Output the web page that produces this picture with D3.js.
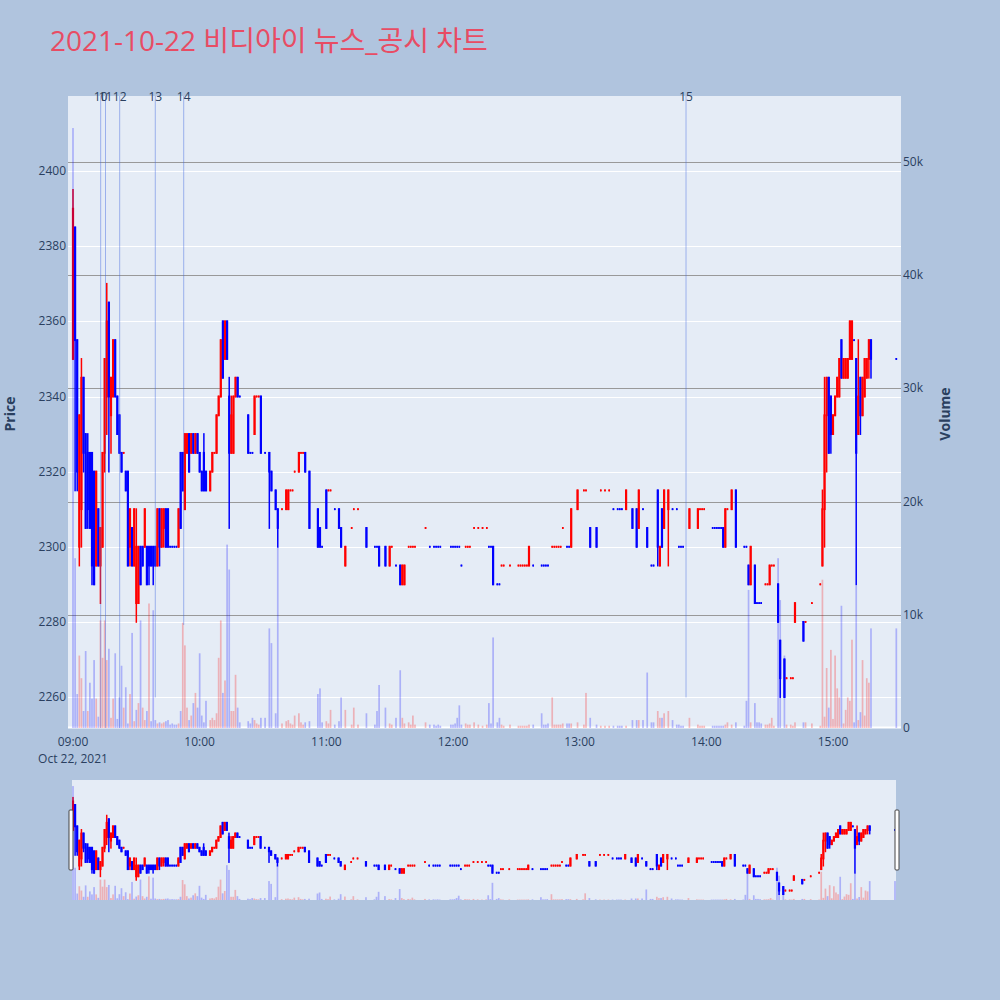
<!DOCTYPE html>
<html><head><meta charset="utf-8">
<script src="https://cdn.jsdelivr.net/npm/d3@7/dist/d3.min.js"></script>
<style>
html,body{margin:0;padding:0;background:#b0c4de;}
svg{display:block;}
text{font-family:"Open Sans","Noto Sans CJK KR",verdana,arial,sans-serif;}
</style></head><body>
<svg id="chart" width="1000" height="1000"></svg>
<script>
// ---------------- DATA ----------------
const tradeDate = "2021-10-22";
const chartTitle = "2021-10-22 비디아이 뉴스_공시 차트";
const prevDayClose = 2400;

const times = [
 "09:00","09:01","09:02","09:03","09:04","09:05","09:06","09:07","09:08","09:09","09:10","09:11","09:12","09:13","09:14","09:15","09:16","09:17","09:18","09:19","09:20","09:21","09:22","09:23","09:24","09:25","09:26","09:27","09:28","09:29","09:30","09:31","09:32","09:33","09:34","09:35","09:36","09:37","09:38","09:39","09:40","09:41","09:42","09:43","09:44","09:45","09:46","09:47","09:48","09:49","09:50","09:51","09:52","09:53","09:54","09:55","09:56","09:57","09:58","09:59",
 "10:00","10:01","10:02","10:03","10:05","10:06","10:07","10:08","10:09","10:10","10:11","10:12","10:13","10:14","10:15","10:16","10:17","10:18","10:19","10:23","10:24","10:25","10:26","10:27","10:28","10:29","10:31","10:33","10:34","10:36","10:37","10:39","10:41","10:42","10:43","10:44","10:45","10:47","10:48","10:49","10:50","10:52","10:56","10:57","10:58",
 "11:00","11:01","11:02","11:04","11:06","11:07","11:09","11:12","11:13","11:15","11:19","11:23","11:24","11:25","11:28","11:30","11:31","11:33","11:35","11:36","11:37","11:39","11:40","11:41","11:42","11:47","11:49","11:51","11:52","11:53","11:54","11:59",
 "12:00","12:01","12:02","12:03","12:04","12:06","12:07","12:08","12:10","12:12","12:14","12:16","12:17","12:18","12:19","12:21","12:22","12:23","12:24","12:27","12:31","12:32","12:33","12:34","12:35","12:36","12:38","12:42","12:43","12:44","12:45","12:47","12:48","12:49","12:50","12:51","12:52","12:54","12:55","12:56","12:59",
 "13:02","13:03","13:05","13:08","13:10","13:12","13:14","13:16","13:18","13:19","13:20","13:22","13:25","13:27","13:28","13:30","13:32","13:34","13:35","13:37","13:38","13:39","13:40","13:42","13:44","13:46","13:47","13:48","13:49","13:52","13:56","13:57","13:58","13:59",
 "14:03","14:04","14:05","14:06","14:07","14:08","14:09","14:10","14:12","14:14","14:18","14:19","14:20","14:21","14:23","14:24","14:25","14:26","14:28","14:29","14:30","14:31","14:32","14:34","14:35","14:37","14:38","14:40","14:41","14:42","14:46","14:47","14:50","14:54","14:55","14:56","14:57","14:58","14:59",
 "15:00","15:01","15:02","15:03","15:04","15:05","15:06","15:07","15:08","15:09","15:10","15:11","15:12","15:13","15:14","15:15","15:16","15:17","15:18","15:30"
];

const open = [
 2350,2385,2355,2300,2310,2345,2330,2325,2325,2325, 2320,2295,2310,2295,2300,2325,2340,2365,2335,2340, 2355,2340,2335,2325,2325,2320,2320,2300,2305,2295, 2285,2285,2300,2300,2300,2300,2300,2300,2300,2300, 2295,2310,2300,2305,2310,2310,2300,2300,2300,2300, 2300,2325,2325,2310,2325,2330,2325,2330,2325,2330,
 2325,2320,2325,2320, 2315,2320,2325,2325,2335,2340,2360,2350,2360,2340,2325,2325,2340,2345,2340, 2335,2325,2325,2330,2340,2340,2340, 2325, 2325,2320, 2315,2310, 2310, 2310,2310,2315,2315,2320, 2320,2325,2325,2325, 2320, 2310,2305,2300,
 2315,2315,2315,2310,2310, 2305,2295,2305,2310,2310, 2305,2300,2300,2300,2300, 2295,2300,2295,2295,2290, 2290,2300,2300,2300,2300, 2305,2300,2300,2300,2300, 2300,2300,
 2300,2300,2300,2300,2295, 2300,2300,2300, 2305,2305,2305,2305, 2300,2300,2300, 2290,2290, 2295,2295, 2295, 2295,2295,2295,2295,2295, 2295, 2295, 2295,2295,2295,2295, 2300,2300,2300,2300,2300, 2305, 2300,2300,2300, 2310,
 2315,2315,2305,2305,2315,2315,2315,2310,2310,2310,2310,2310,2310,2310,2305,2310,2305,2295,2295,2315,2295,2310,2305,2310,2310,2310,2300,2300,2300,2305,2305,2310,2310,2310,
 2305,2305,2305,2305,2305, 2305,2300,2310, 2310, 2315, 2300,2300,2295,2290, 2295,2285,2285,2285, 2290,2290,2290,2295,2295, 2290,2275, 2270,2265, 2265,2265,2280, 2280,2280, 2285, 2290,2295,2310,2335,2345,2340,
 2330,2335,2340,2340,2355,2345,2345,2345,2350,2350,2355,2350,2330,2345,2335,2340,2345,2350,2355, 2350
];
const high = [
 2395,2385,2355,2335,2350,2345,2330,2330,2325,2325, 2320,2320,2310,2305,2325,2350,2370,2365,2345,2355, 2355,2340,2335,2325,2325,2320,2320,2310,2305,2310, 2310,2300,2300,2300,2310,2300,2300,2300,2300,2300, 2310,2310,2310,2310,2310,2310,2300,2300,2300,2300, 2310,2325,2325,2330,2330,2330,2330,2330,2330,2330,
 2325,2320,2330,2320, 2320,2325,2325,2335,2340,2355,2360,2360,2360,2345,2340,2340,2345,2345,2340, 2335,2325,2325,2340,2340,2340,2340, 2325, 2325,2320, 2315,2310, 2310, 2315,2315,2315,2315,2320, 2325,2325,2325,2325, 2320, 2310,2305,2300,
 2315,2315,2315,2310,2310, 2305,2300,2305,2310,2310, 2305,2300,2300,2300,2300, 2300,2300,2295,2295,2295, 2295,2300,2300,2300,2300, 2305,2300,2300,2300,2300, 2300,2300,
 2300,2300,2300,2300,2295, 2300,2300,2300, 2305,2305,2305,2305, 2300,2300,2300, 2290,2290, 2295,2295, 2295, 2295,2295,2295,2295,2295, 2300, 2295, 2295,2295,2295,2295, 2300,2300,2300,2300,2300, 2305, 2300,2300,2310, 2315,
 2315,2315,2305,2305,2315,2315,2315,2310,2310,2310,2310,2315,2310,2310,2315,2310,2305,2295,2295,2315,2300,2310,2315,2315,2310,2310,2300,2300,2300,2310,2310,2310,2310,2310,
 2305,2305,2305,2305,2305, 2305,2310,2310, 2315, 2315, 2300,2300,2295,2300, 2295,2285,2285,2285, 2290,2290,2295,2295,2295, 2290,2275, 2270,2265, 2265,2265,2285, 2280,2280, 2285, 2290,2315,2345,2345,2345,2340,
 2335,2340,2345,2350,2355,2350,2350,2350,2360,2360,2355,2350,2355,2345,2345,2350,2350,2355,2355, 2350
];
const low = [
 2350,2315,2315,2295,2300,2320,2305,2305,2305,2290, 2290,2295,2295,2285,2300,2320,2330,2320,2325,2340, 2340,2330,2325,2320,2325,2315,2295,2295,2295,2295, 2280,2285,2290,2295,2300,2290,2290,2295,2290,2295, 2295,2295,2300,2300,2300,2300,2300,2300,2300,2300, 2300,2305,2315,2310,2325,2320,2325,2325,2325,2325,
 2320,2315,2315,2315, 2315,2320,2325,2325,2335,2340,2345,2350,2350,2305,2325,2325,2340,2340,2340, 2325,2325,2325,2330,2340,2340,2325, 2325, 2305,2315, 2310,2300, 2310, 2310,2310,2315,2315,2320, 2320,2325,2325,2320, 2305, 2300,2300,2300,
 2305,2315,2315,2310,2305, 2300,2295,2305,2310,2310, 2300,2300,2300,2295,2295, 2295,2300,2295,2290,2290, 2290,2300,2300,2300,2300, 2305,2300,2300,2300,2300, 2300,2300,
 2300,2300,2300,2300,2295, 2300,2300,2300, 2305,2305,2305,2305, 2300,2300,2290, 2290,2290, 2295,2295, 2295, 2295,2295,2295,2295,2295, 2295, 2295, 2295,2295,2295,2295, 2300,2300,2300,2300,2300, 2305, 2300,2300,2300, 2310,
 2315,2315,2300,2300,2315,2315,2315,2310,2310,2310,2310,2310,2305,2300,2305,2310,2300,2295,2295,2295,2295,2300,2305,2295,2310,2310,2300,2300,2300,2305,2305,2310,2310,2310,
 2305,2305,2305,2305,2305, 2300,2300,2310, 2310, 2300, 2300,2300,2290,2290, 2285,2285,2285,2285, 2290,2290,2290,2295,2295, 2280,2260, 2260,2265, 2265,2265,2280, 2275,2280, 2285, 2290,2295,2300,2320,2325,2325,
 2330,2335,2340,2340,2345,2345,2345,2345,2350,2350,2355,2290,2330,2330,2335,2340,2345,2345,2345, 2350
];
const close = [
 2390,2355,2320,2335,2345,2325,2305,2310,2305,2295, 2290,2320,2295,2305,2325,2350,2360,2340,2345,2355, 2340,2330,2325,2320,2325,2315,2295,2310,2295,2310, 2300,2300,2290,2295,2310,2290,2295,2295,2295,2295, 2310,2300,2310,2310,2300,2300,2300,2300,2300,2300, 2310,2305,2315,2330,2330,2320,2330,2325,2330,2325,
 2320,2315,2315,2315, 2320,2325,2325,2335,2340,2355,2345,2360,2350,2325,2335,2340,2345,2340,2340, 2325,2325,2325,2340,2340,2340,2325, 2325, 2320,2315, 2310,2305, 2310, 2315,2315,2315,2315,2320, 2325,2325,2325,2320, 2305, 2300,2300,2300,
 2305,2315,2315,2310,2305, 2300,2300,2305,2310,2310, 2300,2300,2300,2295,2295, 2300,2300,2295,2290,2295, 2295,2300,2300,2300,2300, 2305,2300,2300,2300,2300, 2300,2300,
 2300,2300,2300,2300,2295, 2300,2300,2300, 2305,2305,2305,2305, 2300,2300,2290, 2290,2290, 2295,2295, 2295, 2295,2295,2295,2295,2295, 2300, 2295, 2295,2295,2295,2295, 2300,2300,2300,2300,2300, 2305, 2300,2300,2310, 2315,
 2315,2315,2300,2300,2315,2315,2315,2310,2310,2310,2310,2315,2305,2300,2315,2310,2300,2295,2295,2300,2300,2300,2315,2315,2310,2310,2300,2300,2300,2310,2310,2310,2310,2310,
 2305,2305,2305,2305,2305, 2300,2310,2310, 2315, 2300, 2300,2300,2290,2300, 2285,2285,2285,2285, 2290,2290,2295,2295,2295, 2280,2265, 2260,2265, 2265,2265,2285, 2275,2280, 2285, 2290,2310,2335,2345,2325,2330,
 2335,2340,2345,2350,2345,2350,2350,2350,2360,2360,2355,2325,2340,2335,2345,2350,2350,2355,2350, 2350
];
const volume = [
 53000,15000,3000,6400,4400,1500,6800,1500,4000,2600, 6000,2600,1000,9500,6200,9500,6000,7000,900,2600, 6600,800,2700,5500,1800,3600,400,3000,8400,600, 1600,2200,9500,1800,700,1500,11000,600,10400,700, 400,500,400,500,600,700,300,400,300,300, 400,1500,9300,7300,1800,700,1100,2200,3100,1800,
 6600,1100,500,2400, 700,900,700,1300,6200,9500,3100,4200,16200,14000,1500,1500,4700,1800,500, 600,400,900,700,400,300,900, 900, 8800,7500, 1300,16000, 400, 600,700,400,300,1100, 1300,500,300,500, 600, 3000,3500,500,
 600,400,1600,300,600, 2700,1600,300,1800,300, 1300,300,1500,3800,1800, 400,300,900,5100,900, 400,500,300,1100,300, 500,300,300,200,300, 200,300,
 300,400,900,2000,300, 400,300,300, 500,300,200,300, 2200,400,8000, 500,900, 300,200, 300, 200,200,200,200,200, 300, 300, 1300,300,300,400, 2700,300,300,300,300, 400, 400,400,400, 500,
 300,3100,900,300,200,200,200,200,200,200,200,200,700,700,700,700,4900,500,500,1500,900,900,1300,1500,700,300,300,200,200,900,300,200,200,200,
 200,200,200,200,200, 200,300,500, 300, 500, 200,2400,12200,500, 2200,500,500,400, 300,300,400,900,200, 15000,11300, 6400,300, 300,200,500, 500,500, 400, 200,13100,1000,5300,1800,6900,
 800,6400,3500,2700,10800,400,1600,2700,2400,7800,500,12600,700,1400,6000,1100,4400,4000,8800, 8800
];

const priceTicks = [2260,2280,2300,2320,2340,2360,2380,2400];
const volumeTicks = [0,10000,20000,30000,40000,50000];
const volumeTickLabels = ["0","10k","20k","30k","40k","50k"];
const timeTicks = ["09:00","10:00","11:00","12:00","13:00","14:00","15:00"];
const firstTickDate = "Oct 22, 2021";

const newsTimes = ["09:13:07","09:15:24","09:22:07","09:38:59","09:52:26","13:50:23"];
const newsLabels = ["10","11","12","13","14","15"];
const newsLineBottomVolume = [0,0,0,2700,9100,2700];

// ---------------- LAYOUT ----------------
const plot = {l:68, r:901, t:96, b:728};
const slider = {l:72, r:896, t:780, b:900};
const xRange = ["08:57:38","15:32:13"];
const priceRange = [2251.75, 2420];
const volumeRange = [0, 55830];
const UP = "#ff0000", DOWN = "#0000ff";
const FONT_COLOR = "#2a3f5f";

const parse = d3.timeParse("%Y-%m-%d %H:%M:%S");
const toDate = s => parse(tradeDate + " " + (s.length === 5 ? s + ":00" : s));

const n = Math.min(times.length, open.length, high.length, low.length, close.length, volume.length);
const rows = [];
let pc = null, pd = 1;
for (let i = 0; i < n; i++) {
  const o = open[i], c = close[i];
  let d;
  if (c > o) d = 1; else if (c < o) d = -1;
  else if (pc !== null && c > pc) d = 1; else if (pc !== null && c < pc) d = -1; else d = pd;
  const ref = i === 0 ? prevDayClose : close[i-1];
  const vd = c > ref ? 1 : (c < ref ? -1 : d);
  rows.push({t: toDate(times[i]), o, h: high[i], l: low[i], c, v: volume[i], d, vd});
  pc = c; pd = d;
}

const svg = d3.select("#chart");
svg.append("rect").attr("width",1000).attr("height",1000).attr("fill","#b0c4de");

const defs = svg.append("defs");
defs.append("clipPath").attr("id","clipMain").append("rect")
  .attr("x",plot.l).attr("y",plot.t).attr("width",plot.r-plot.l).attr("height",plot.b-plot.t);
defs.append("clipPath").attr("id","clipMini").append("rect")
  .attr("x",slider.l).attr("y",slider.t).attr("width",slider.r-slider.l).attr("height",slider.b-slider.t);

// scales
const x = d3.scaleTime().domain([toDate(xRange[0]), toDate(xRange[1])]).range([plot.l, plot.r]);
const y = d3.scaleLinear().domain(priceRange).range([plot.b, plot.t]);
const yv = d3.scaleLinear().domain(volumeRange).range([plot.b, plot.t]);

const xm = d3.scaleTime().domain([toDate("09:00"), toDate("15:30")]).range([73, 895]);
const ym = d3.scaleLinear().domain(priceRange).range([slider.b, slider.t]);
const yvm = d3.scaleLinear().domain(volumeRange).range([slider.b, slider.t]);

// main plot background
svg.append("rect").attr("x",plot.l).attr("y",plot.t).attr("width",plot.r-plot.l).attr("height",plot.b-plot.t).attr("fill","#e5ecf6");

// price grid
svg.append("g").selectAll("line").data(priceTicks).join("line")
  .attr("x1",plot.l).attr("x2",plot.r).attr("y1",d=>Math.round(y(d))+0.5).attr("y2",d=>Math.round(y(d))+0.5)
  .attr("stroke","#ffffff").attr("stroke-width",1);
// volume grid
svg.append("g").selectAll("line").data(volumeTicks.filter(v=>v>0)).join("line")
  .attr("x1",plot.l).attr("x2",plot.r).attr("y1",d=>Math.round(yv(d))+0.5).attr("y2",d=>Math.round(yv(d))+0.5)
  .attr("stroke","#999999").attr("stroke-width",1);
// zero line
svg.append("line").attr("x1",plot.l).attr("x2",plot.r).attr("y1",yv(0)-0.5).attr("y2",yv(0)-0.5)
  .attr("stroke","#ffffff").attr("stroke-width",2);

function drawSeries(g, xs, ys, yvs) {
  const cg = g.append("g");
  // wicks
  cg.selectAll("rect.w").data(rows).join("rect").attr("class","w")
    .attr("x", d => xs(d.t) - 0.75)
    .attr("width", 1.5)
    .attr("y", d => ys(d.h) - 0.9)
    .attr("height", d => Math.max(1.8, ys(d.l) - ys(d.h) + 1.8))
    .attr("fill", d => d.d > 0 ? UP : DOWN);
  // bodies
  cg.selectAll("rect.b").data(rows).join("rect").attr("class","b")
    .attr("x", d => xs(d.t) - (d.o === d.c ? 0.8 : 1.1))
    .attr("width", d => d.o === d.c ? 1.6 : 2.2)
    .attr("y", d => ys(Math.max(d.o, d.c)) - 0.9)
    .attr("height", d => Math.max(1.8, ys(Math.min(d.o, d.c)) - ys(Math.max(d.o, d.c)) + 1.8))
    .attr("fill", d => d.d > 0 ? UP : DOWN);
  // volume bars (overlay axis, drawn above)
  g.append("g").selectAll("rect").data(rows).join("rect")
    .attr("x", d => xs(d.t) - 0.85)
    .attr("width", 1.7)
    .attr("y", d => yvs(d.v))
    .attr("height", d => yvs(0) - yvs(d.v))
    .attr("fill", d => d.vd > 0 ? UP : DOWN)
    .attr("fill-opacity", 0.25);
}

const main = svg.append("g").attr("clip-path","url(#clipMain)");
drawSeries(main, x, y, yv);

// news lines
const ng = svg.append("g");
ng.selectAll("line").data(newsTimes).join("line")
  .attr("x1", d => x(toDate(d))).attr("x2", d => x(toDate(d)))
  .attr("y1", plot.t).attr("y2", (d,i) => yv(newsLineBottomVolume[i]))
  .attr("stroke","#4169e1").attr("stroke-opacity",0.45).attr("stroke-width",1);
ng.selectAll("text").data(newsTimes).join("text")
  .attr("x", d => x(toDate(d))).attr("y", plot.t + 5)
  .attr("text-anchor","middle").attr("font-size",12).attr("fill",FONT_COLOR)
  .text((d,i) => newsLabels[i]);

// axes labels
const ax = svg.append("g").attr("font-size",12).attr("fill",FONT_COLOR);
ax.selectAll("text.py").data(priceTicks).join("text").attr("class","py")
  .attr("x", plot.l - 2).attr("y", d => y(d) + 4).attr("text-anchor","end")
  .attr("fill",FONT_COLOR).text(d => d);
ax.selectAll("text.vy").data(volumeTicks).join("text").attr("class","vy")
  .attr("x", plot.r + 2).attr("y", d => yv(d) + 4).attr("text-anchor","start")
  .attr("fill",FONT_COLOR).text((d,i) => volumeTickLabels[i]);
ax.selectAll("text.tx").data(timeTicks).join("text").attr("class","tx")
  .attr("x", d => x(toDate(d))).attr("y", plot.b + 18).attr("text-anchor","middle")
  .attr("fill",FONT_COLOR).text(d => d);
ax.append("text").attr("x", x(toDate(timeTicks[0]))).attr("y", plot.b + 35)
  .attr("text-anchor","middle").attr("fill",FONT_COLOR).text(firstTickDate);

// axis titles
svg.append("text").attr("transform",`translate(15,${(plot.t+plot.b)/2+2}) rotate(-90)`)
  .attr("text-anchor","middle").attr("font-size",14).attr("font-weight","bold").attr("fill",FONT_COLOR).text("Price");
svg.append("text").attr("transform",`translate(950,${(plot.t+plot.b)/2+2}) rotate(-90)`)
  .attr("text-anchor","middle").attr("font-size",14).attr("font-weight","bold").attr("fill",FONT_COLOR).text("Volume");

// title
svg.append("text").attr("x",50).attr("y",51).attr("font-size",28).attr("fill","#e84c64").text(chartTitle);

// range slider
svg.append("rect").attr("x",slider.l).attr("y",slider.t).attr("width",slider.r-slider.l).attr("height",slider.b-slider.t).attr("fill","#e5ecf6");
const mini = svg.append("g").attr("clip-path","url(#clipMini)");
drawSeries(mini, xm, ym, yvm);
[slider.l - 3, slider.r - 1].forEach(gx => {
  svg.append("rect").attr("x", gx).attr("y", slider.t + 30).attr("width",4).attr("height",60)
    .attr("rx",1).attr("fill","#ffffff").attr("stroke","#444").attr("stroke-width",1);
});
</script>
</body></html>
